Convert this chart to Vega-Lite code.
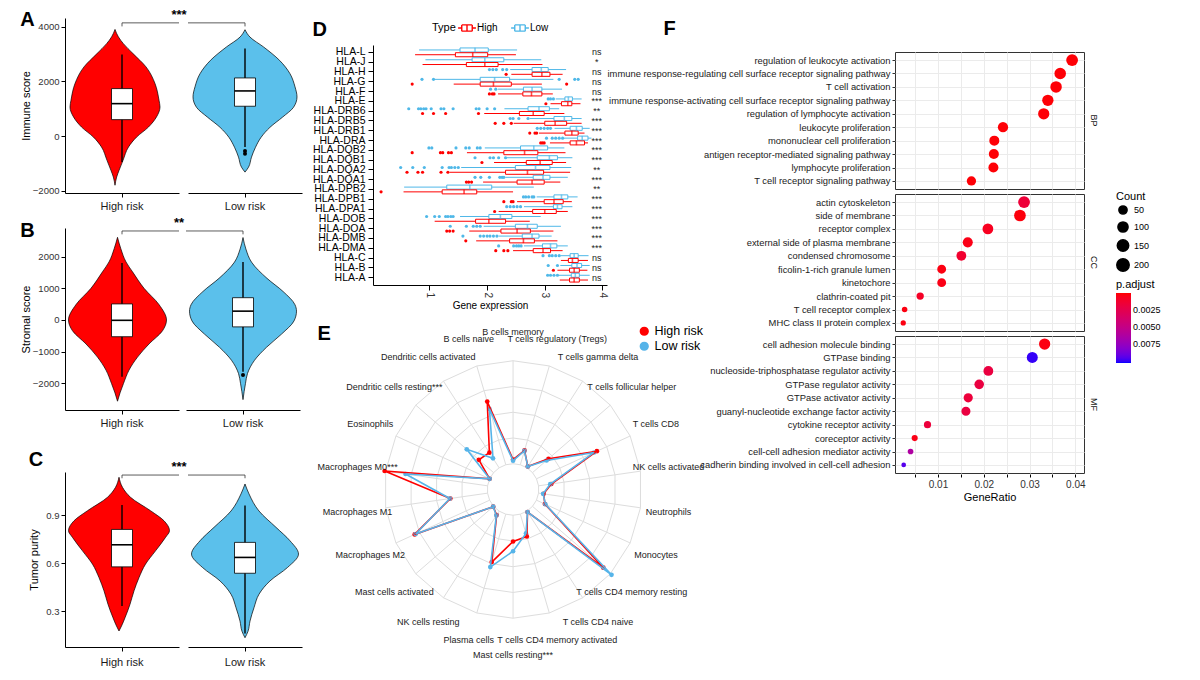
{
"$schema": "https://vega.github.io/schema/vega-lite/v6.json",
"background": "white",
"padding": {"left": 20, "top": 8, "right": 4, "bottom": 0},
"config": {
  "font": "Liberation Sans",
  "view": {"stroke": null},
  "axis": {"domainColor": "black", "tickColor": "black", "labelColor": "#333333", "titleColor": "black", "titleFontWeight": "normal", "labelFontSize": 10, "titleFontSize": 11, "grid": false},
  "header": {"labelFontSize": 11, "labelColor": "#1A1A1A"},
  "title": {"fontSize": 20, "fontWeight": "bold", "anchor": "start", "frame": "bounds", "color": "black"},
  "legend": {"layout": {"top": {"anchor": "middle", "direction": "horizontal"}, "right": {"anchor": "middle", "direction": "vertical", "margin": 4}}}
},
"datasets": {
  "vA": [
    {"g":"High risk","y":3900,"w":0},{"g":"High risk","y":3630,"w":6.7},{"g":"High risk","y":3380,"w":16.7},{"g":"High risk","y":3016,"w":36},{"g":"High risk","y":2530,"w":62},{"g":"High risk","y":1920,"w":80},{"g":"High risk","y":1310,"w":88},{"g":"High risk","y":1060,"w":90},{"g":"High risk","y":700,"w":83},{"g":"High risk","y":330,"w":67},{"g":"High risk","y":-40,"w":43},{"g":"High risk","y":-400,"w":27},{"g":"High risk","y":-890,"w":16},{"g":"High risk","y":-1260,"w":8},{"g":"High risk","y":-1500,"w":3.3},{"g":"High risk","y":-1800,"w":0},
    {"g":"Low risk","y":3890,"w":0},{"g":"Low risk","y":3620,"w":10},{"g":"Low risk","y":3260,"w":37},{"g":"Low risk","y":2770,"w":69},{"g":"Low risk","y":2280,"w":90},{"g":"Low risk","y":1800,"w":100},{"g":"Low risk","y":1430,"w":104},{"g":"Low risk","y":1050,"w":97},{"g":"Low risk","y":690,"w":75},{"g":"Low risk","y":320,"w":50},{"g":"Low risk","y":-50,"w":32},{"g":"Low risk","y":-410,"w":21},{"g":"Low risk","y":-770,"w":13},{"g":"Low risk","y":-1140,"w":7},{"g":"Low risk","y":-1320,"w":0},
    {"g":"High risk","q1":600,"med":1185,"q3":1735,"lo":-950,"hi":2980},
    {"g":"Low risk","q1":1090,"med":1650,"q3":2125,"lo":-400,"hi":3200},
    {"g":"Low risk","o":-550},{"g":"Low risk","o":-650},
    {"g":"High risk","br":1},{"g":"Low risk","br":1}
  ],
  "vB": [
    {"g":"High risk","y":2606,"w":0},{"g":"High risk","y":2244,"w":6.7},{"g":"High risk","y":1830,"w":17},{"g":"High risk","y":1520,"w":30},{"g":"High risk","y":1000,"w":53},{"g":"High risk","y":486,"w":83},{"g":"High risk","y":0,"w":98},{"g":"High risk","y":-340,"w":90},{"g":"High risk","y":-755,"w":63},{"g":"High risk","y":-1170,"w":40},{"g":"High risk","y":-1580,"w":23},{"g":"High risk","y":-2000,"w":12},{"g":"High risk","y":-2300,"w":5},{"g":"High risk","y":-2560,"w":0},
    {"g":"Low risk","y":2600,"w":0},{"g":"Low risk","y":2240,"w":5.7},{"g":"Low risk","y":1825,"w":17},{"g":"Low risk","y":1313,"w":48},{"g":"Low risk","y":900,"w":80},{"g":"Low risk","y":480,"w":104},{"g":"Low risk","y":280,"w":107},{"g":"Low risk","y":-30,"w":102},{"g":"Low risk","y":-445,"w":77},{"g":"Low risk","y":-860,"w":47},{"g":"Low risk","y":-1270,"w":23},{"g":"Low risk","y":-1685,"w":9},{"g":"Low risk","y":-1995,"w":5},{"g":"Low risk","y":-2510,"w":0},
    {"g":"High risk","q1":-527,"med":-10,"q3":507,"lo":-1790,"hi":1800},
    {"g":"Low risk","q1":-217,"med":279,"q3":703,"lo":-1634,"hi":1830},
    {"g":"Low risk","o":-1737},
    {"g":"High risk","br":1},{"g":"Low risk","br":1}
  ],
  "vC": [
    {"g":"High risk","y":1.136,"w":0},{"g":"High risk","y":1.073,"w":7},{"g":"High risk","y":1.011,"w":23},{"g":"High risk","y":0.927,"w":63},{"g":"High risk","y":0.864,"w":90},{"g":"High risk","y":0.802,"w":101},{"g":"High risk","y":0.76,"w":93},{"g":"High risk","y":0.676,"w":73},{"g":"High risk","y":0.593,"w":53},{"g":"High risk","y":0.509,"w":40},{"g":"High risk","y":0.426,"w":30},{"g":"High risk","y":0.342,"w":22},{"g":"High risk","y":0.258,"w":12},{"g":"High risk","y":0.206,"w":5},{"g":"High risk","y":0.175,"w":0},
    {"g":"Low risk","y":1.094,"w":0},{"g":"Low risk","y":1.032,"w":8},{"g":"Low risk","y":0.925,"w":28},{"g":"Low risk","y":0.823,"w":62},{"g":"Low risk","y":0.739,"w":90},{"g":"Low risk","y":0.656,"w":107},{"g":"Low risk","y":0.572,"w":85},{"g":"Low risk","y":0.488,"w":50},{"g":"Low risk","y":0.405,"w":28},{"g":"Low risk","y":0.321,"w":18},{"g":"Low risk","y":0.237,"w":10},{"g":"Low risk","y":0.173,"w":6},{"g":"Low risk","y":0.133,"w":0},
    {"g":"High risk","q1":0.576,"med":0.714,"q3":0.81,"lo":0.332,"hi":0.963},
    {"g":"Low risk","q1":0.536,"med":0.635,"q3":0.729,"lo":0.16,"hi":0.959},
    {"g":"High risk","br":1},{"g":"Low risk","br":1}
  ],
  "dstat": [
    {"gene":"HLA-L","type":"Low","lo":0.82,"q1":1.53,"med":1.79,"q3":2.02,"hi":2.52},{"gene":"HLA-L","type":"High","lo":0.75,"q1":1.45,"med":1.75,"q3":2.01,"hi":2.5},
    {"gene":"HLA-J","type":"Low","lo":0.93,"q1":1.74,"med":1.96,"q3":2.29,"hi":2.94},{"gene":"HLA-J","type":"High","lo":0.88,"q1":1.64,"med":1.96,"q3":2.19,"hi":2.96},
    {"gene":"HLA-H","type":"Low","lo":2.4,"q1":2.78,"med":2.94,"q3":3.06,"hi":3.37},{"gene":"HLA-H","type":"High","lo":2.42,"q1":2.78,"med":2.95,"q3":3.09,"hi":3.31},
    {"gene":"HLA-G","type":"Low","lo":1.09,"q1":1.88,"med":2.13,"q3":2.39,"hi":3.15},{"gene":"HLA-G","type":"High","lo":1.42,"q1":1.88,"med":2.11,"q3":2.42,"hi":2.95},
    {"gene":"HLA-F","type":"Low","lo":2.19,"q1":2.63,"med":2.78,"q3":2.95,"hi":3.3},{"gene":"HLA-F","type":"High","lo":2.19,"q1":2.62,"med":2.77,"q3":2.95,"hi":3.14},
    {"gene":"HLA-E","type":"Low","lo":3.19,"q1":3.35,"med":3.41,"q3":3.48,"hi":3.64},{"gene":"HLA-E","type":"High","lo":3.1,"q1":3.29,"med":3.4,"q3":3.47,"hi":3.62},
    {"gene":"HLA-DRB6","type":"Low","lo":2.3,"q1":2.71,"med":2.9,"q3":3.08,"hi":3.25},{"gene":"HLA-DRB6","type":"High","lo":1.95,"q1":2.56,"med":2.8,"q3":2.99,"hi":3.34},
    {"gene":"HLA-DRB5","type":"Low","lo":2.74,"q1":3.16,"med":3.34,"q3":3.47,"hi":3.64},{"gene":"HLA-DRB5","type":"High","lo":2.46,"q1":3.0,"med":3.18,"q3":3.38,"hi":3.64},
    {"gene":"HLA-DRB1","type":"Low","lo":3.17,"q1":3.44,"med":3.55,"q3":3.65,"hi":3.78},{"gene":"HLA-DRB1","type":"High","lo":2.9,"q1":3.35,"med":3.47,"q3":3.58,"hi":3.69},
    {"gene":"HLA-DRA","type":"Low","lo":3.33,"q1":3.57,"med":3.65,"q3":3.75,"hi":3.81},{"gene":"HLA-DRA","type":"High","lo":3.09,"q1":3.44,"med":3.55,"q3":3.69,"hi":3.75},
    {"gene":"HLA-DQB2","type":"Low","lo":1.96,"q1":2.58,"med":2.81,"q3":3.05,"hi":3.34},{"gene":"HLA-DQB2","type":"High","lo":1.65,"q1":2.29,"med":2.65,"q3":2.88,"hi":3.36},
    {"gene":"HLA-DQB1","type":"Low","lo":2.34,"q1":2.87,"med":3.08,"q3":3.22,"hi":3.48},{"gene":"HLA-DQB1","type":"High","lo":2.12,"q1":2.68,"med":2.92,"q3":3.13,"hi":3.37},
    {"gene":"HLA-DQA2","type":"Low","lo":1.55,"q1":2.49,"med":2.84,"q3":3.09,"hi":3.46},{"gene":"HLA-DQA2","type":"High","lo":1.35,"q1":2.32,"med":2.7,"q3":2.98,"hi":3.44},
    {"gene":"HLA-DQA1","type":"Low","lo":2.32,"q1":2.8,"med":2.97,"q3":3.09,"hi":3.4},{"gene":"HLA-DQA1","type":"High","lo":1.93,"q1":2.52,"med":2.78,"q3":2.99,"hi":3.27},
    {"gene":"HLA-DPB2","type":"Low","lo":0.56,"q1":1.3,"med":1.7,"q3":2.08,"hi":2.81},{"gene":"HLA-DPB2","type":"High","lo":0.55,"q1":1.22,"med":1.6,"q3":1.82,"hi":2.45},
    {"gene":"HLA-DPB1","type":"Low","lo":2.86,"q1":3.16,"med":3.29,"q3":3.4,"hi":3.57},{"gene":"HLA-DPB1","type":"High","lo":2.52,"q1":2.99,"med":3.16,"q3":3.32,"hi":3.47},
    {"gene":"HLA-DPA1","type":"Low","lo":2.64,"q1":3.15,"med":3.22,"q3":3.3,"hi":3.48},{"gene":"HLA-DPA1","type":"High","lo":2.2,"q1":2.79,"med":3.0,"q3":3.2,"hi":3.4},
    {"gene":"HLA-DOB","type":"Low","lo":1.53,"q1":2.03,"med":2.23,"q3":2.43,"hi":2.93},{"gene":"HLA-DOB","type":"High","lo":1.09,"q1":1.8,"med":2.03,"q3":2.32,"hi":2.74},
    {"gene":"HLA-DOA","type":"Low","lo":1.94,"q1":2.49,"med":2.7,"q3":2.87,"hi":3.28},{"gene":"HLA-DOA","type":"High","lo":1.69,"q1":2.24,"med":2.52,"q3":2.75,"hi":3.15},
    {"gene":"HLA-DMB","type":"Low","lo":2.2,"q1":2.61,"med":2.78,"q3":2.9,"hi":3.12},{"gene":"HLA-DMB","type":"High","lo":1.81,"q1":2.39,"med":2.63,"q3":2.82,"hi":3.22},
    {"gene":"HLA-DMA","type":"Low","lo":2.64,"q1":2.96,"med":3.1,"q3":3.21,"hi":3.4},{"gene":"HLA-DMA","type":"High","lo":2.45,"q1":2.8,"med":2.97,"q3":3.1,"hi":3.31},
    {"gene":"HLA-C","type":"Low","lo":3.27,"q1":3.44,"med":3.51,"q3":3.58,"hi":3.76},{"gene":"HLA-C","type":"High","lo":3.28,"q1":3.41,"med":3.48,"q3":3.58,"hi":3.75},
    {"gene":"HLA-B","type":"Low","lo":3.27,"q1":3.47,"med":3.56,"q3":3.64,"hi":3.78},{"gene":"HLA-B","type":"High","lo":3.22,"q1":3.43,"med":3.51,"q3":3.6,"hi":3.74},
    {"gene":"HLA-A","type":"Low","lo":3.23,"q1":3.46,"med":3.53,"q3":3.6,"hi":3.78},{"gene":"HLA-A","type":"High","lo":3.26,"q1":3.43,"med":3.51,"q3":3.6,"hi":3.75}
  ],
  "dout": [
    {"gene":"HLA-H","type":"Low","out":2.04},{"gene":"HLA-H","type":"Low","out":2.1},{"gene":"HLA-H","type":"Low","out":2.16},{"gene":"HLA-H","type":"Low","out":2.27},{"gene":"HLA-H","type":"Low","out":2.34},{"gene":"HLA-H","type":"High","out":2.33},
    {"gene":"HLA-G","type":"Low","out":0.87},{"gene":"HLA-G","type":"Low","out":1.07},{"gene":"HLA-G","type":"Low","out":3.25},{"gene":"HLA-G","type":"Low","out":3.52},{"gene":"HLA-G","type":"Low","out":3.58},{"gene":"HLA-G","type":"High","out":0.7},{"gene":"HLA-G","type":"High","out":3.38},
    {"gene":"HLA-F","type":"Low","out":2.06},{"gene":"HLA-F","type":"Low","out":2.15},{"gene":"HLA-F","type":"High","out":2.04},{"gene":"HLA-F","type":"High","out":2.09},{"gene":"HLA-F","type":"High","out":2.12},
    {"gene":"HLA-E","type":"Low","out":3.06},{"gene":"HLA-E","type":"Low","out":3.1},{"gene":"HLA-E","type":"Low","out":3.15},{"gene":"HLA-E","type":"High","out":3.02},
    {"gene":"HLA-DRB6","type":"Low","out":0.64},{"gene":"HLA-DRB6","type":"Low","out":0.81},{"gene":"HLA-DRB6","type":"Low","out":0.85},{"gene":"HLA-DRB6","type":"Low","out":0.9},{"gene":"HLA-DRB6","type":"Low","out":0.94},{"gene":"HLA-DRB6","type":"Low","out":1.03},{"gene":"HLA-DRB6","type":"Low","out":1.2},{"gene":"HLA-DRB6","type":"Low","out":1.25},{"gene":"HLA-DRB6","type":"Low","out":1.41},{"gene":"HLA-DRB6","type":"Low","out":1.81},{"gene":"HLA-DRB6","type":"Low","out":1.86},{"gene":"HLA-DRB6","type":"Low","out":2.0},{"gene":"HLA-DRB6","type":"Low","out":2.13},
    {"gene":"HLA-DRB6","type":"High","out":0.88},{"gene":"HLA-DRB6","type":"High","out":1.07},{"gene":"HLA-DRB6","type":"High","out":1.28},{"gene":"HLA-DRB6","type":"High","out":1.85},
    {"gene":"HLA-DRB5","type":"Low","out":2.4},{"gene":"HLA-DRB5","type":"Low","out":2.45},{"gene":"HLA-DRB5","type":"Low","out":2.55},{"gene":"HLA-DRB5","type":"Low","out":2.71},{"gene":"HLA-DRB5","type":"High","out":2.14},{"gene":"HLA-DRB5","type":"High","out":2.29},{"gene":"HLA-DRB5","type":"High","out":2.42},
    {"gene":"HLA-DRB1","type":"Low","out":2.87},{"gene":"HLA-DRB1","type":"Low","out":2.93},{"gene":"HLA-DRB1","type":"Low","out":2.99},{"gene":"HLA-DRB1","type":"Low","out":3.05},{"gene":"HLA-DRB1","type":"Low","out":3.1},{"gene":"HLA-DRB1","type":"High","out":2.74},{"gene":"HLA-DRB1","type":"High","out":2.83},{"gene":"HLA-DRB1","type":"High","out":2.86},
    {"gene":"HLA-DRA","type":"Low","out":3.03},{"gene":"HLA-DRA","type":"Low","out":3.13},{"gene":"HLA-DRA","type":"Low","out":3.19},{"gene":"HLA-DRA","type":"Low","out":3.25},{"gene":"HLA-DRA","type":"Low","out":3.31},{"gene":"HLA-DRA","type":"High","out":2.93},{"gene":"HLA-DRA","type":"High","out":2.96},{"gene":"HLA-DRA","type":"High","out":2.99},
    {"gene":"HLA-DQB2","type":"Low","out":0.99},{"gene":"HLA-DQB2","type":"Low","out":1.04},{"gene":"HLA-DQB2","type":"Low","out":1.46},{"gene":"HLA-DQB2","type":"Low","out":1.63},{"gene":"HLA-DQB2","type":"Low","out":1.69},{"gene":"HLA-DQB2","type":"Low","out":1.83},{"gene":"HLA-DQB2","type":"Low","out":1.88},{"gene":"HLA-DQB2","type":"High","out":0.7},{"gene":"HLA-DQB2","type":"High","out":1.19},{"gene":"HLA-DQB2","type":"High","out":1.23},{"gene":"HLA-DQB2","type":"High","out":1.33},{"gene":"HLA-DQB2","type":"High","out":1.38},
    {"gene":"HLA-DQB1","type":"Low","out":1.79},{"gene":"HLA-DQB1","type":"Low","out":2.05},{"gene":"HLA-DQB1","type":"Low","out":2.11},{"gene":"HLA-DQB1","type":"Low","out":2.2},{"gene":"HLA-DQB1","type":"Low","out":2.32},{"gene":"HLA-DQB1","type":"High","out":1.91},
    {"gene":"HLA-DQA2","type":"Low","out":0.5},{"gene":"HLA-DQA2","type":"Low","out":0.71},{"gene":"HLA-DQA2","type":"Low","out":0.91},{"gene":"HLA-DQA2","type":"Low","out":1.22},{"gene":"HLA-DQA2","type":"Low","out":1.34},{"gene":"HLA-DQA2","type":"Low","out":1.38},{"gene":"HLA-DQA2","type":"Low","out":1.44},{"gene":"HLA-DQA2","type":"Low","out":1.5},{"gene":"HLA-DQA2","type":"High","out":0.61},{"gene":"HLA-DQA2","type":"High","out":0.8},{"gene":"HLA-DQA2","type":"High","out":0.88},{"gene":"HLA-DQA2","type":"High","out":1.2},{"gene":"HLA-DQA2","type":"High","out":1.32},
    {"gene":"HLA-DQA1","type":"Low","out":1.79},{"gene":"HLA-DQA1","type":"Low","out":1.89},{"gene":"HLA-DQA1","type":"Low","out":2.04},{"gene":"HLA-DQA1","type":"Low","out":2.22},{"gene":"HLA-DQA1","type":"Low","out":2.26},{"gene":"HLA-DQA1","type":"Low","out":2.29},{"gene":"HLA-DQA1","type":"High","out":1.64},{"gene":"HLA-DQA1","type":"High","out":1.68},{"gene":"HLA-DQA1","type":"High","out":1.73},
    {"gene":"HLA-DPB2","type":"High","out":0.16},
    {"gene":"HLA-DPB1","type":"Low","out":2.63},{"gene":"HLA-DPB1","type":"Low","out":2.67},{"gene":"HLA-DPB1","type":"Low","out":2.72},{"gene":"HLA-DPB1","type":"Low","out":2.78},{"gene":"HLA-DPB1","type":"Low","out":2.81},{"gene":"HLA-DPB1","type":"High","out":2.29},{"gene":"HLA-DPB1","type":"High","out":2.42},{"gene":"HLA-DPB1","type":"High","out":2.45},
    {"gene":"HLA-DPA1","type":"Low","out":2.34},{"gene":"HLA-DPA1","type":"Low","out":2.4},{"gene":"HLA-DPA1","type":"Low","out":2.46},{"gene":"HLA-DPA1","type":"Low","out":2.52},{"gene":"HLA-DPA1","type":"Low","out":2.58},{"gene":"HLA-DPA1","type":"High","out":2.13},
    {"gene":"HLA-DOB","type":"Low","out":0.95},{"gene":"HLA-DOB","type":"Low","out":1.09},{"gene":"HLA-DOB","type":"Low","out":1.17},{"gene":"HLA-DOB","type":"Low","out":1.28},{"gene":"HLA-DOB","type":"Low","out":1.32},{"gene":"HLA-DOB","type":"Low","out":1.37},{"gene":"HLA-DOB","type":"Low","out":1.41},
    {"gene":"HLA-DOA","type":"Low","out":1.36},{"gene":"HLA-DOA","type":"Low","out":1.64},{"gene":"HLA-DOA","type":"Low","out":1.76},{"gene":"HLA-DOA","type":"Low","out":1.82},{"gene":"HLA-DOA","type":"Low","out":1.88},{"gene":"HLA-DOA","type":"High","out":1.3},{"gene":"HLA-DOA","type":"High","out":1.35},{"gene":"HLA-DOA","type":"High","out":1.41},
    {"gene":"HLA-DMB","type":"Low","out":1.58},{"gene":"HLA-DMB","type":"Low","out":1.88},{"gene":"HLA-DMB","type":"Low","out":1.94},{"gene":"HLA-DMB","type":"Low","out":2.0},{"gene":"HLA-DMB","type":"Low","out":2.05},{"gene":"HLA-DMB","type":"Low","out":2.11},{"gene":"HLA-DMB","type":"Low","out":2.17},{"gene":"HLA-DMB","type":"High","out":1.63},
    {"gene":"HLA-DMA","type":"Low","out":2.2},{"gene":"HLA-DMA","type":"Low","out":2.46},{"gene":"HLA-DMA","type":"Low","out":2.51},{"gene":"HLA-DMA","type":"Low","out":2.55},{"gene":"HLA-DMA","type":"Low","out":2.59},{"gene":"HLA-DMA","type":"High","out":2.15},{"gene":"HLA-DMA","type":"High","out":2.29},{"gene":"HLA-DMA","type":"High","out":2.36},
    {"gene":"HLA-C","type":"Low","out":2.97},{"gene":"HLA-C","type":"Low","out":3.08},{"gene":"HLA-C","type":"Low","out":3.13},{"gene":"HLA-C","type":"Low","out":3.19},{"gene":"HLA-C","type":"Low","out":3.25},
    {"gene":"HLA-B","type":"Low","out":3.06},{"gene":"HLA-B","type":"Low","out":3.22},{"gene":"HLA-B","type":"High","out":3.15},
    {"gene":"HLA-A","type":"Low","out":3.05},{"gene":"HLA-A","type":"Low","out":3.1},{"gene":"HLA-A","type":"Low","out":3.16},{"gene":"HLA-A","type":"Low","out":3.22}
  ],
  "dsig": [
    {"gene":"HLA-L","sig":"ns"},{"gene":"HLA-J","sig":"*"},{"gene":"HLA-H","sig":"ns"},{"gene":"HLA-G","sig":"ns"},{"gene":"HLA-F","sig":"ns"},{"gene":"HLA-E","sig":"***"},{"gene":"HLA-DRB6","sig":"**"},{"gene":"HLA-DRB5","sig":"***"},{"gene":"HLA-DRB1","sig":"***"},{"gene":"HLA-DRA","sig":"***"},{"gene":"HLA-DQB2","sig":"***"},{"gene":"HLA-DQB1","sig":"***"},{"gene":"HLA-DQA2","sig":"**"},{"gene":"HLA-DQA1","sig":"***"},{"gene":"HLA-DPB2","sig":"**"},{"gene":"HLA-DPB1","sig":"***"},{"gene":"HLA-DPA1","sig":"***"},{"gene":"HLA-DOB","sig":"***"},{"gene":"HLA-DOA","sig":"***"},{"gene":"HLA-DMB","sig":"***"},{"gene":"HLA-DMA","sig":"***"},{"gene":"HLA-C","sig":"ns"},{"gene":"HLA-B","sig":"ns"},{"gene":"HLA-A","sig":"ns"}
  ],
  "erings": [{"lv":[0,0.05,0.1,0.15,0.2],"i":[0,1,2,3,4,5,6,7,8,9,10,11,12,13,14,15,16,17,18,19,20,21]}],
  "ecells": [
    {"c":"B cells memory","i":0},{"c":"T cells regulatory (Tregs)","i":1},{"c":"T cells gamma delta","i":2},{"c":"T cells follicular helper","i":3},{"c":"T cells CD8","i":4},{"c":"NK cells activated","i":5},{"c":"Neutrophils","i":6},{"c":"Monocytes","i":7},{"c":"T cells CD4 memory resting","i":8},{"c":"T cells CD4 naive","i":9},{"c":"T cells CD4 memory activated","i":10},{"c":"Mast cells resting***","i":11},{"c":"Plasma cells","i":12},{"c":"NK cells resting","i":13},{"c":"Mast cells activated","i":14},{"c":"Macrophages M2","i":15},{"c":"Macrophages M1","i":16},{"c":"Macrophages M0***","i":17},{"c":"Eosinophils","i":18},{"c":"Dendritic cells resting***","i":19},{"c":"Dendritic cells activated","i":20},{"c":"B cells naive","i":21}
  ],
  "eradar": [
    {"grp":"High risk","i":0,"v":0.008},{"grp":"High risk","i":1,"v":0.029},{"grp":"High risk","i":2,"v":0.003},{"grp":"High risk","i":3,"v":0.041},{"grp":"High risk","i":4,"v":0.129},{"grp":"High risk","i":5,"v":0.025},{"grp":"High risk","i":6,"v":0.01},{"grp":"High risk","i":7,"v":0.018},{"grp":"High risk","i":8,"v":0.182},{"grp":"High risk","i":9,"v":0.002},{"grp":"High risk","i":10,"v":0.045},{"grp":"High risk","i":11,"v":0.051},{"grp":"High risk","i":12,"v":0.097},{"grp":"High risk","i":13,"v":0.009},{"grp":"High risk","i":14,"v":0.001},{"grp":"High risk","i":15,"v":0.16},{"grp":"High risk","i":16,"v":0.073},{"grp":"High risk","i":17,"v":0.202},{"grp":"High risk","i":18,"v":0.0},{"grp":"High risk","i":19,"v":0.038},{"grp":"High risk","i":20,"v":0.035},{"grp":"High risk","i":21,"v":0.128},
    {"grp":"Low risk","i":0,"v":0.006},{"grp":"Low risk","i":1,"v":0.028},{"grp":"Low risk","i":2,"v":0.003},{"grp":"Low risk","i":3,"v":0.036},{"grp":"Low risk","i":4,"v":0.123},{"grp":"Low risk","i":5,"v":0.023},{"grp":"Low risk","i":6,"v":0.009},{"grp":"Low risk","i":7,"v":0.019},{"grp":"Low risk","i":8,"v":0.203},{"grp":"Low risk","i":9,"v":0.002},{"grp":"Low risk","i":10,"v":0.039},{"grp":"Low risk","i":11,"v":0.07},{"grp":"Low risk","i":12,"v":0.107},{"grp":"Low risk","i":13,"v":0.01},{"grp":"Low risk","i":14,"v":0.001},{"grp":"Low risk","i":15,"v":0.158},{"grp":"Low risk","i":16,"v":0.074},{"grp":"Low risk","i":17,"v":0.161},{"grp":"Low risk","i":18,"v":0.0},{"grp":"Low risk","i":19,"v":0.069},{"grp":"Low risk","i":20,"v":0.022},{"grp":"Low risk","i":21,"v":0.113}
  ],
  "fgo": [
    {"cat":"BP","term":"regulation of leukocyte activation","ratio":0.0393,"count":167,"p":0.0001},
    {"cat":"BP","term":"immune response-regulating cell surface receptor signaling pathway","ratio":0.0367,"count":156,"p":0.0001},
    {"cat":"BP","term":"T cell activation","ratio":0.0358,"count":152,"p":0.0001},
    {"cat":"BP","term":"immune response-activating cell surface receptor signaling pathway","ratio":0.034,"count":144,"p":0.0001},
    {"cat":"BP","term":"regulation of lymphocyte activation","ratio":0.0331,"count":141,"p":0.0001},
    {"cat":"BP","term":"leukocyte proliferation","ratio":0.0242,"count":103,"p":0.0001},
    {"cat":"BP","term":"mononuclear cell proliferation","ratio":0.0223,"count":95,"p":0.0001},
    {"cat":"BP","term":"antigen receptor-mediated signaling pathway","ratio":0.0222,"count":94,"p":0.0001},
    {"cat":"BP","term":"lymphocyte proliferation","ratio":0.0221,"count":94,"p":0.0001},
    {"cat":"BP","term":"T cell receptor signaling pathway","ratio":0.0173,"count":74,"p":0.0001},
    {"cat":"CC","term":"actin cytoskeleton","ratio":0.0288,"count":167,"p":0.0016},
    {"cat":"CC","term":"side of membrane","ratio":0.0279,"count":162,"p":0.0002},
    {"cat":"CC","term":"receptor complex","ratio":0.0209,"count":121,"p":0.0007},
    {"cat":"CC","term":"external side of plasma membrane","ratio":0.0165,"count":96,"p":0.0004},
    {"cat":"CC","term":"condensed chromosome","ratio":0.0151,"count":88,"p":0.0012},
    {"cat":"CC","term":"ficolin-1-rich granule lumen","ratio":0.0108,"count":63,"p":0.0003},
    {"cat":"CC","term":"kinetochore","ratio":0.0108,"count":63,"p":0.0004},
    {"cat":"CC","term":"clathrin-coated pit","ratio":0.0061,"count":35,"p":0.0009},
    {"cat":"CC","term":"T cell receptor complex","ratio":0.0027,"count":16,"p":0.0003},
    {"cat":"CC","term":"MHC class II protein complex","ratio":0.0024,"count":14,"p":0.0003},
    {"cat":"MF","term":"cell adhesion molecule binding","ratio":0.0333,"count":142,"p":0.0003},
    {"cat":"MF","term":"GTPase binding","ratio":0.0306,"count":130,"p":0.0099},
    {"cat":"MF","term":"nucleoside-triphosphatase regulator activity","ratio":0.021,"count":89,"p":0.0019},
    {"cat":"MF","term":"GTPase regulator activity","ratio":0.019,"count":81,"p":0.0019},
    {"cat":"MF","term":"GTPase activator activity","ratio":0.0166,"count":71,"p":0.0017},
    {"cat":"MF","term":"guanyl-nucleotide exchange factor activity","ratio":0.0161,"count":68,"p":0.0019},
    {"cat":"MF","term":"cytokine receptor activity","ratio":0.0077,"count":33,"p":0.0017},
    {"cat":"MF","term":"coreceptor activity","ratio":0.0049,"count":21,"p":0.0004},
    {"cat":"MF","term":"cell-cell adhesion mediator activity","ratio":0.004,"count":17,"p":0.0062},
    {"cat":"MF","term":"cadherin binding involved in cell-cell adhesion","ratio":0.0025,"count":11,"p":0.0094}
  ]
},
"columns": 2,
"align": "none",
"spacing": 10,
"resolve": {"scale": {"color": "independent", "size": "independent", "stroke": "independent", "fill": "independent"}, "legend": {"color": "independent", "size": "independent", "stroke": "independent", "fill": "independent"}},
"concat": [
  {"spacing": 21, "resolve": {"scale": {"color": "independent"}, "legend": {"color": "independent"}}, "vconcat": [
   {"spacing": 4, "resolve": {"scale": {"color": "independent"}, "legend": {"color": "independent"}}, "vconcat": [
    {"title": {"text": "A", "offset": -21},
     "data": {"name": "vA"},
     "facet": {"column": {"field": "g", "type": "nominal", "sort": ["High risk","Low risk"], "header": {"title": null, "labelOrient": "bottom", "labelPadding": 3, "labelFontSize": 11}}},
     "spacing": 0,
     "spec": {"width": 114, "height": 175, "layer": [
       {"transform": [{"filter": {"field": "w", "valid": true}}],
        "mark": {"type": "area", "orient": "horizontal", "interpolate": "monotone", "stroke": "black", "strokeWidth": 0.7, "opacity": 1},
        "encoding": {
          "y": {"field": "y", "type": "quantitative", "scale": {"domain": [-2084, 4318], "nice": false, "zero": false}, "axis": {"values": [-2000, 0, 2000, 4000], "format": "d", "title": "Immune score", "labelFontSize": 9.5, "titlePadding": 1, "labelPadding": 2, "tickSize": 4}},
          "x": {"field": "w", "type": "quantitative", "stack": "center", "impute": null, "scale": {"domain": [-5, 109], "nice": false, "zero": false}, "axis": {"labels": false, "title": null, "values": [52], "tickSize": 4}},
          "color": {"field": "g", "type": "nominal", "scale": {"domain": ["High risk","Low risk"], "range": ["#FF0000","#5BC0EB"]}, "legend": null}}},
       {"transform": [{"filter": {"field": "q1", "valid": true}}], "mark": {"type": "rule", "color": "black", "strokeWidth": 1.4},
        "encoding": {"x": {"datum": 52, "type": "quantitative"}, "y": {"field": "lo", "type": "quantitative"}, "y2": {"field": "hi"}}},
       {"transform": [{"filter": {"field": "q1", "valid": true}}], "mark": {"type": "rect", "fill": "white", "stroke": "black", "strokeWidth": 0.8},
        "encoding": {"x": {"datum": 41.5, "type": "quantitative"}, "x2": {"datum": 62.5}, "y": {"field": "q1", "type": "quantitative"}, "y2": {"field": "q3"}}},
       {"transform": [{"filter": {"field": "q1", "valid": true}}], "mark": {"type": "rule", "color": "black", "strokeWidth": 1.6},
        "encoding": {"x": {"datum": 41.5, "type": "quantitative"}, "x2": {"datum": 62.5}, "y": {"field": "med", "type": "quantitative"}}},
       {"transform": [{"filter": {"field": "o", "valid": true}}], "mark": {"type": "circle", "color": "black", "size": 16, "opacity": 1},
        "encoding": {"x": {"datum": 52, "type": "quantitative"}, "y": {"field": "o", "type": "quantitative"}}},
       {"transform": [{"filter": {"and": [{"field": "br", "valid": true}, {"field": "g", "equal": "High risk"}]}}], "mark": {"type": "rule", "color": "#333333", "strokeWidth": 0.8},
        "encoding": {"x": {"datum": 52, "type": "quantitative"}, "x2": {"datum": 109}, "y": {"datum": 4140, "type": "quantitative"}}},
       {"transform": [{"filter": {"and": [{"field": "br", "valid": true}, {"field": "g", "equal": "High risk"}]}}], "mark": {"type": "text", "text": "***", "fontSize": 13, "fontWeight": "bold", "baseline": "bottom", "dy": -1},
        "encoding": {"x": {"datum": 109, "type": "quantitative"}, "y": {"datum": 4140, "type": "quantitative"}}},
       {"transform": [{"filter": {"and": [{"field": "br", "valid": true}, {"field": "g", "equal": "Low risk"}]}}], "mark": {"type": "rule", "color": "#333333", "strokeWidth": 0.8},
        "encoding": {"x": {"datum": -5, "type": "quantitative"}, "x2": {"datum": 52}, "y": {"datum": 4140, "type": "quantitative"}}},
       {"transform": [{"filter": {"field": "br", "valid": true}}], "mark": {"type": "rule", "color": "#333333", "strokeWidth": 0.8},
        "encoding": {"x": {"datum": 52, "type": "quantitative"}, "y": {"datum": 4010, "type": "quantitative"}, "y2": {"datum": 4140}}}
     ]}},
    {"title": {"text": "B", "offset": -24},
     "data": {"name": "vB"},
     "facet": {"column": {"field": "g", "type": "nominal", "sort": ["High risk","Low risk"], "header": {"title": null, "labelOrient": "bottom", "labelPadding": 3, "labelFontSize": 11}}},
     "spacing": 0,
     "spec": {"width": 114, "height": 182, "layer": [
       {"transform": [{"filter": {"field": "w", "valid": true}}],
        "mark": {"type": "area", "orient": "horizontal", "interpolate": "monotone", "stroke": "black", "strokeWidth": 0.7, "opacity": 1},
        "encoding": {
          "y": {"field": "y", "type": "quantitative", "scale": {"domain": [-2837, 2900], "nice": false, "zero": false}, "axis": {"values": [-2000, -1000, 0, 1000, 2000], "format": "d", "title": "Stromal score", "labelFontSize": 9.5, "titlePadding": 1, "labelPadding": 2, "tickSize": 4}},
          "x": {"field": "w", "type": "quantitative", "stack": "center", "impute": null, "scale": {"domain": [-3.5, 110.5], "nice": false, "zero": false}, "axis": {"labels": false, "title": null, "values": [53.5], "tickSize": 4}},
          "color": {"field": "g", "type": "nominal", "scale": {"domain": ["High risk","Low risk"], "range": ["#FF0000","#5BC0EB"]}, "legend": null}}},
       {"transform": [{"filter": {"field": "q1", "valid": true}}], "mark": {"type": "rule", "color": "black", "strokeWidth": 1.4},
        "encoding": {"x": {"datum": 53.5, "type": "quantitative"}, "y": {"field": "lo", "type": "quantitative"}, "y2": {"field": "hi"}}},
       {"transform": [{"filter": {"field": "q1", "valid": true}}], "mark": {"type": "rect", "fill": "white", "stroke": "black", "strokeWidth": 0.8},
        "encoding": {"x": {"datum": 43, "type": "quantitative"}, "x2": {"datum": 64}, "y": {"field": "q1", "type": "quantitative"}, "y2": {"field": "q3"}}},
       {"transform": [{"filter": {"field": "q1", "valid": true}}], "mark": {"type": "rule", "color": "black", "strokeWidth": 1.6},
        "encoding": {"x": {"datum": 43, "type": "quantitative"}, "x2": {"datum": 64}, "y": {"field": "med", "type": "quantitative"}}},
       {"transform": [{"filter": {"field": "o", "valid": true}}], "mark": {"type": "circle", "color": "black", "size": 16, "opacity": 1},
        "encoding": {"x": {"datum": 53.5, "type": "quantitative"}, "y": {"field": "o", "type": "quantitative"}}},
       {"transform": [{"filter": {"and": [{"field": "br", "valid": true}, {"field": "g", "equal": "High risk"}]}}], "mark": {"type": "rule", "color": "#333333", "strokeWidth": 0.8},
        "encoding": {"x": {"datum": 53.5, "type": "quantitative"}, "x2": {"datum": 110.5}, "y": {"datum": 2806, "type": "quantitative"}}},
       {"transform": [{"filter": {"and": [{"field": "br", "valid": true}, {"field": "g", "equal": "High risk"}]}}], "mark": {"type": "text", "text": "**", "fontSize": 13, "fontWeight": "bold", "baseline": "bottom", "dy": -1},
        "encoding": {"x": {"datum": 110.5, "type": "quantitative"}, "y": {"datum": 2806, "type": "quantitative"}}},
       {"transform": [{"filter": {"and": [{"field": "br", "valid": true}, {"field": "g", "equal": "Low risk"}]}}], "mark": {"type": "rule", "color": "#333333", "strokeWidth": 0.8},
        "encoding": {"x": {"datum": -3.5, "type": "quantitative"}, "x2": {"datum": 53.5}, "y": {"datum": 2806, "type": "quantitative"}}},
       {"transform": [{"filter": {"field": "br", "valid": true}}], "mark": {"type": "rule", "color": "#333333", "strokeWidth": 0.8},
        "encoding": {"x": {"datum": 53.5, "type": "quantitative"}, "y": {"datum": 2700, "type": "quantitative"}, "y2": {"datum": 2806}}}
     ]}}
   ]},
    {"title": {"text": "C", "offset": -9},
     "data": {"name": "vC"},
     "facet": {"column": {"field": "g", "type": "nominal", "sort": ["High risk","Low risk"], "header": {"title": null, "labelOrient": "bottom", "labelPadding": 5, "labelFontSize": 11}}},
     "spacing": 0,
     "spec": {"width": 114, "height": 175, "layer": [
       {"transform": [{"filter": {"field": "w", "valid": true}}],
        "mark": {"type": "area", "orient": "horizontal", "interpolate": "monotone", "stroke": "black", "strokeWidth": 0.7, "opacity": 1},
        "encoding": {
          "y": {"field": "y", "type": "quantitative", "scale": {"domain": [0.075, 1.169], "nice": false, "zero": false}, "axis": {"values": [0.3, 0.6, 0.9], "format": ".1f", "title": "Tumor purity", "labelFontSize": 9.5, "titlePadding": 6, "labelPadding": 2, "tickSize": 4}},
          "x": {"field": "w", "type": "quantitative", "stack": "center", "impute": null, "scale": {"domain": [-3.5, 110.5], "nice": false, "zero": false}, "axis": {"labels": false, "title": null, "values": [53.5], "tickSize": 4}},
          "color": {"field": "g", "type": "nominal", "scale": {"domain": ["High risk","Low risk"], "range": ["#FF0000","#5BC0EB"]}, "legend": null}}},
       {"transform": [{"filter": {"field": "q1", "valid": true}}], "mark": {"type": "rule", "color": "black", "strokeWidth": 1.4},
        "encoding": {"x": {"datum": 53.5, "type": "quantitative"}, "y": {"field": "lo", "type": "quantitative"}, "y2": {"field": "hi"}}},
       {"transform": [{"filter": {"field": "q1", "valid": true}}], "mark": {"type": "rect", "fill": "white", "stroke": "black", "strokeWidth": 0.8},
        "encoding": {"x": {"datum": 43, "type": "quantitative"}, "x2": {"datum": 64}, "y": {"field": "q1", "type": "quantitative"}, "y2": {"field": "q3"}}},
       {"transform": [{"filter": {"field": "q1", "valid": true}}], "mark": {"type": "rule", "color": "black", "strokeWidth": 1.6},
        "encoding": {"x": {"datum": 43, "type": "quantitative"}, "x2": {"datum": 64}, "y": {"field": "med", "type": "quantitative"}}},
       {"transform": [{"filter": {"and": [{"field": "br", "valid": true}, {"field": "g", "equal": "High risk"}]}}], "mark": {"type": "rule", "color": "#333333", "strokeWidth": 0.8},
        "encoding": {"x": {"datum": 53.5, "type": "quantitative"}, "x2": {"datum": 110.5}, "y": {"datum": 1.15, "type": "quantitative"}}},
       {"transform": [{"filter": {"and": [{"field": "br", "valid": true}, {"field": "g", "equal": "High risk"}]}}], "mark": {"type": "text", "text": "***", "fontSize": 13, "fontWeight": "bold", "baseline": "bottom", "dy": -1},
        "encoding": {"x": {"datum": 110.5, "type": "quantitative"}, "y": {"datum": 1.15, "type": "quantitative"}}},
       {"transform": [{"filter": {"and": [{"field": "br", "valid": true}, {"field": "g", "equal": "Low risk"}]}}], "mark": {"type": "rule", "color": "#333333", "strokeWidth": 0.8},
        "encoding": {"x": {"datum": -3.5, "type": "quantitative"}, "x2": {"datum": 53.5}, "y": {"datum": 1.15, "type": "quantitative"}}},
       {"transform": [{"filter": {"field": "br", "valid": true}}], "mark": {"type": "rule", "color": "#333333", "strokeWidth": 0.8},
        "encoding": {"x": {"datum": 53.5, "type": "quantitative"}, "y": {"datum": 1.13, "type": "quantitative"}, "y2": {"datum": 1.15}}}
     ]}}
  ]},
  {"columns": 2, "align": "none", "spacing": -99, "resolve": {"scale": {"color": "independent", "size": "independent", "stroke": "independent", "fill": "independent"}, "legend": {"color": "independent", "size": "independent", "stroke": "independent", "fill": "independent"}}, "concat": [
    {"spacing": 13, "resolve": {"scale": {"color": "independent", "stroke": "independent"}, "legend": {"color": "independent", "stroke": "independent"}}, "vconcat": [
     {"spacing": -4, "resolve": {"scale": {"color": "independent", "stroke": "independent"}, "legend": {"color": "independent", "stroke": "independent"}}, "vconcat": [
      {"width": 1, "height": 1, "data": {"values": [{"t": ""}]}, "mark": {"type": "text", "text": ""}, "encoding": {}},
      {"title": {"text": "D", "offset": -18},
       "width": 234, "height": 240,
       "layer": [
        {"data": {"name": "dstat"}, "mark": {"type": "bar", "filled": false, "strokeWidth": 1},
         "encoding": {
           "y": {"field": "gene", "type": "nominal", "scale": {"domain": ["HLA-L","HLA-J","HLA-H","HLA-G","HLA-F","HLA-E","HLA-DRB6","HLA-DRB5","HLA-DRB1","HLA-DRA","HLA-DQB2","HLA-DQB1","HLA-DQA2","HLA-DQA1","HLA-DPB2","HLA-DPB1","HLA-DPA1","HLA-DOB","HLA-DOA","HLA-DMB","HLA-DMA","HLA-C","HLA-B","HLA-A"], "paddingInner": 0.1, "paddingOuter": 0.3}, "axis": {"title": null, "labelFontSize": 10.5, "labelColor": "black", "labelPadding": 3}},
           "yOffset": {"field": "type", "type": "nominal", "scale": {"domain": ["Low","High"], "paddingInner": 0.15}},
           "x": {"field": "q1", "type": "quantitative", "title": "Gene expression", "scale": {"domain": [0.02, 4.08], "nice": false, "zero": false}, "axis": {"values": [1, 2, 3, 4], "format": "d", "labelAngle": 90, "titleFontSize": 10, "labelFontSize": 10, "titlePadding": 3}},
           "x2": {"field": "q3"},
           "stroke": {"field": "type", "type": "nominal", "scale": {"domain": ["High","Low"], "range": ["#FF0000","#4FB8E8"]}, "legend": {"title": "Type", "orient": "top", "direction": "horizontal", "titleOrient": "left", "symbolType": "M-1,-0.6L1,-0.6 M1,-0.6L1,0.6 M1,0.6L-1,0.6 M-1,0.6L-1,-0.6 M-1.7,0L-1,0 M1,0L1.7,0 M0,-0.6L0,0.6", "symbolSize": 110, "symbolStrokeWidth": 1.4, "labelFontSize": 10, "titleFontSize": 11, "titleFontWeight": "normal", "offset": 11}}}},
        {"data": {"name": "dstat"}, "mark": {"type": "rule", "strokeWidth": 1},
         "encoding": {"y": {"field": "gene", "type": "nominal"}, "yOffset": {"field": "type", "type": "nominal"}, "x": {"field": "lo", "type": "quantitative", "title": "Gene expression"}, "x2": {"field": "q1"}, "color": {"field": "type", "type": "nominal", "scale": {"domain": ["High","Low"], "range": ["#FF0000","#4FB8E8"]}, "legend": null}}},
        {"data": {"name": "dstat"}, "mark": {"type": "rule", "strokeWidth": 1},
         "encoding": {"y": {"field": "gene", "type": "nominal"}, "yOffset": {"field": "type", "type": "nominal"}, "x": {"field": "q3", "type": "quantitative", "title": "Gene expression"}, "x2": {"field": "hi"}, "color": {"field": "type", "type": "nominal", "legend": null}}},
        {"data": {"name": "dstat"}, "mark": {"type": "tick", "orient": "vertical", "thickness": 1.6, "size": 4.5},
         "encoding": {"y": {"field": "gene", "type": "nominal"}, "yOffset": {"field": "type", "type": "nominal"}, "x": {"field": "med", "type": "quantitative", "title": "Gene expression"}, "color": {"field": "type", "type": "nominal", "legend": null}}},
        {"data": {"name": "dout"}, "mark": {"type": "circle", "size": 10, "opacity": 1},
         "encoding": {"y": {"field": "gene", "type": "nominal"}, "yOffset": {"field": "type", "type": "nominal"}, "x": {"field": "out", "type": "quantitative", "title": "Gene expression"}, "color": {"field": "type", "type": "nominal", "legend": null}}},
        {"data": {"name": "dsig"}, "mark": {"type": "text", "fontSize": 9, "color": "#222222"},
         "encoding": {"y": {"field": "gene", "type": "nominal"}, "x": {"datum": 3.9, "type": "quantitative"}, "text": {"field": "sig"}}}
       ]}
     ]},
      {"title": {"text": "E", "offset": -19},
       "width": 328, "height": 345,
       "encoding": {
         "x": {"field": "px", "type": "quantitative", "scale": {"domain": [-0.272, 0.365], "nice": false, "zero": false}, "axis": null},
         "y": {"field": "py", "type": "quantitative", "scale": {"domain": [-0.37, 0.3], "nice": false, "zero": false}, "axis": null}},
       "layer": [
        {"data": {"name": "erings"}, "transform": [{"flatten": ["lv"]}, {"flatten": ["i"]}, {"calculate": "(datum.lv+0.05)*sin(2*PI*datum.i/22)", "as": "px"}, {"calculate": "(datum.lv+0.05)*cos(2*PI*datum.i/22)", "as": "py"}],
         "mark": {"type": "line", "interpolate": "linear-closed", "color": "#DDDDDD", "strokeWidth": 1},
         "encoding": {"detail": {"field": "lv", "type": "nominal"}, "order": {"field": "i", "type": "quantitative"}}},
        {"data": {"name": "erings"}, "transform": [{"flatten": ["i"]}, {"calculate": "0.05*sin(2*PI*datum.i/22)", "as": "px"}, {"calculate": "0.05*cos(2*PI*datum.i/22)", "as": "py"}, {"calculate": "0.25*sin(2*PI*datum.i/22)", "as": "px2"}, {"calculate": "0.25*cos(2*PI*datum.i/22)", "as": "py2"}],
         "mark": {"type": "rule", "color": "#DDDDDD", "strokeWidth": 1},
         "encoding": {"x2": {"field": "px2"}, "y2": {"field": "py2"}}},
        {"data": {"values": [{"t":"0","lv":0},{"t":"0.05","lv":0.05},{"t":"0.1","lv":0.1},{"t":"0.15","lv":0.15},{"t":"0.2","lv":0.2}]},
         "transform": [{"calculate": "datum.lv+0.05", "as": "py"}],
         "mark": {"type": "text", "align": "right", "dx": 2, "fontSize": 12, "color": "#A6A6A6"},
         "encoding": {"x": {"datum": 0, "type": "quantitative"}, "y": {"field": "py", "type": "quantitative"}, "text": {"field": "t"}}},
        {"data": {"name": "eradar"}, "transform": [{"calculate": "(datum.v+0.05)*sin(2*PI*datum.i/22)", "as": "px"}, {"calculate": "(datum.v+0.05)*cos(2*PI*datum.i/22)", "as": "py"}],
         "mark": {"type": "circle", "size": 22, "opacity": 1},
         "encoding": {"color": {"field": "grp", "type": "nominal", "scale": {"domain": ["High risk","Low risk"], "range": ["#FF0000","#56B4E9"]}, "legend": {"title": null, "orient": "none", "legendX": 265, "legendY": -10, "labelFontSize": 12.5, "symbolType": "circle", "symbolSize": 60, "rowPadding": 0}}}},
        {"data": {"name": "eradar"}, "transform": [{"calculate": "(datum.v+0.05)*sin(2*PI*datum.i/22)", "as": "px"}, {"calculate": "(datum.v+0.05)*cos(2*PI*datum.i/22)", "as": "py"}],
         "mark": {"type": "line", "interpolate": "linear-closed", "strokeWidth": 1.6},
         "encoding": {"color": {"field": "grp", "type": "nominal", "legend": null}, "order": {"field": "i", "type": "quantitative"}}},
        {"data": {"name": "ecells"}, "transform": [{"filter": "datum.i != 11"}, {"calculate": "0.305*sin(2*PI*datum.i/22)", "as": "px"}, {"calculate": "0.305*cos(2*PI*datum.i/22)", "as": "py"}],
         "mark": {"type": "text", "fontSize": 9, "color": "#222222"},
         "encoding": {"text": {"field": "c"}}},
        {"data": {"name": "ecells"}, "transform": [{"filter": "datum.i == 11"}, {"calculate": "0.305*sin(2*PI*datum.i/22)", "as": "px"}, {"calculate": "0.305*cos(2*PI*datum.i/22)", "as": "py"}],
         "mark": {"type": "text", "fontSize": 9, "color": "#222222", "dy": 8},
         "encoding": {"text": {"field": "c"}}}
       ]}
    ]},
    {"spacing": -6, "resolve": {"scale": {"fill": "independent", "size": "independent"}, "legend": {"fill": "independent", "size": "independent"}}, "vconcat": [
     {"width": 1, "height": 1, "data": {"values": [{"t": ""}]}, "mark": {"type": "text", "text": ""}, "encoding": {}},
     {"title": {"text": "F", "offset": 13, "dx": 57},
     "data": {"name": "fgo"},
     "facet": {"row": {"field": "cat", "type": "nominal", "sort": ["BP","CC","MF"], "header": {"title": null, "labelOrient": "right", "labelAngle": 90, "labelFontSize": 9, "labelPadding": 4}}},
     "spacing": 3,
     "resolve": {"scale": {"y": "independent"}},
     "spec": {
       "width": 189, "height": 137,
       "view": {"stroke": "#333333", "strokeWidth": 1},
       "mark": {"type": "circle", "opacity": 1},
       "encoding": {
         "y": {"field": "term", "type": "nominal", "sort": ["regulation of leukocyte activation","immune response-regulating cell surface receptor signaling pathway","T cell activation","immune response-activating cell surface receptor signaling pathway","regulation of lymphocyte activation","leukocyte proliferation","mononuclear cell proliferation","antigen receptor-mediated signaling pathway","lymphocyte proliferation","T cell receptor signaling pathway","actin cytoskeleton","side of membrane","receptor complex","external side of plasma membrane","condensed chromosome","ficolin-1-rich granule lumen","kinetochore","clathrin-coated pit","T cell receptor complex","MHC class II protein complex","cell adhesion molecule binding","GTPase binding","nucleoside-triphosphatase regulator activity","GTPase regulator activity","GTPase activator activity","guanyl-nucleotide exchange factor activity","cytokine receptor activity","coreceptor activity","cell-cell adhesion mediator activity","cadherin binding involved in cell-cell adhesion"], "scale": {"padding": 0.6}, "axis": {"title": null, "labelFontSize": 9.4, "labelColor": "#1A1A1A", "labelLimit": 400, "grid": true, "gridColor": "#EBEBEB", "domain": false, "tickColor": "#333333", "tickSize": 3}},
         "x": {"field": "ratio", "type": "quantitative", "title": "GeneRatio", "scale": {"domain": [0.0006, 0.0419], "nice": false, "zero": false}, "axis": {"values": [0.005, 0.01, 0.015, 0.02, 0.025, 0.03, 0.035, 0.04], "labelExpr": "indexof([0.01,0.02,0.03,0.04], datum.value) >= 0 ? format(datum.value, '.2f') : ''", "grid": true, "gridColor": "#EBEBEB", "domain": false, "tickSize": 3, "labelFontSize": 10, "titleFontSize": 11, "titlePadding": 2}},
         "size": {"field": "count", "type": "quantitative", "title": "Count", "scale": {"type": "sqrt", "domain": [12, 200], "range": [24, 154], "zero": false}, "legend": {"values": [50, 100, 150, 200], "symbolFillColor": "black", "symbolStrokeColor": "black", "titleFontSize": 11, "labelFontSize": 9, "titleFontWeight": "normal", "rowPadding": 0, "titlePadding": 3}},
         "fill": {"field": "p", "type": "quantitative", "title": "p.adjust", "scale": {"domain": [0.0102, 0], "range": ["#0000FF", "#FF0000"], "interpolate": "lab"}, "legend": {"values": [0.0025, 0.005, 0.0075], "format": ".4f", "gradientLength": 70, "gradientThickness": 15, "titleFontSize": 11, "labelFontSize": 9, "titleFontWeight": "normal", "titlePadding": 3}}
       }
     }}
    ]}
  ]}
]
}
